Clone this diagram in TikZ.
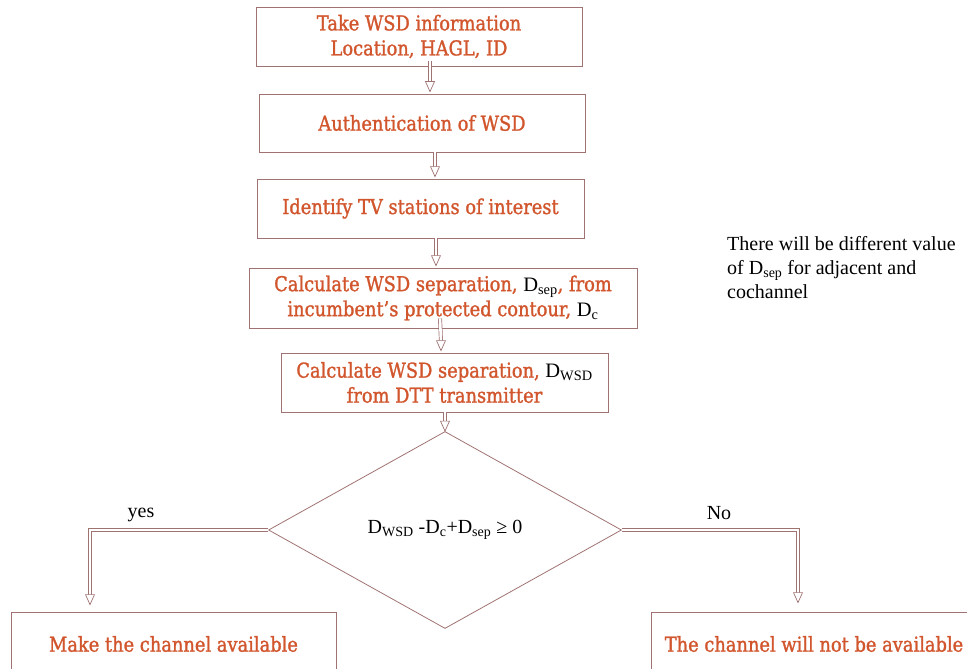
\documentclass[tikz,border=0pt]{standalone}
\usepackage{fontspec}
\setmainfont{Liberation Serif}
\newfontfamily\boxfont{DejaVu Serif}[FakeStretch=0.87,FakeBold=1.3]
\usetikzlibrary{shapes.geometric,calc}
\definecolor{txt}{RGB}{210,86,45}
\definecolor{bc}{RGB}{160,115,115}
\newcommand\Dsub[1]{{\rmfamily\color{black}D\textsubscript{#1}}}
\newcommand\dnarrow[2]{%
  \draw[shaft] (#1) -- ($(#2)+(0,-9)$);
  \draw[head] ($(#2)+(-4.5,-10)$) -- (#2) -- ($(#2)+(4.5,-10)$) -- cycle;}
\begin{document}
\begin{tikzpicture}[x=1pt,y=-1pt,
  box/.style={draw=bc, line width=0.8pt, inner sep=0pt, align=center,
    font=\boxfont\fontsize{20.5}{25}\selectfont, text=txt},
  shaft/.style={draw=bc, line width=0.7pt, double=white, double distance=2.6pt, line join=miter},
  head/.style={draw=bc, fill=white, line width=0.7pt, line join=miter},
  lbl/.style={font=\fontsize{20}{22}\selectfont, inner sep=0pt}]
\useasboundingbox (0,0) rectangle (967,669);
\fill[white] (0,0) rectangle (967,669);

\node[box, minimum width=326pt, minimum height=59pt] (b1) at (419,36.5)
  {Take WSD information\\Location, HAGL, ID};
\node[box, minimum width=326pt, minimum height=58pt] (b2) at (422,123)
  {Authentication of WSD};
\node[box, minimum width=327pt, minimum height=59pt] (b3) at (420.5,208.5)
  {Identify TV stations of interest};
\node[box, minimum width=388pt, minimum height=60pt] (b4) at (443,298)
  {Calculate WSD separation, \Dsub{sep}, from\\incumbent’s protected contour, \Dsub{c}};
\node[box, minimum width=327pt, minimum height=59pt] (b5) at (444.5,382.5)
  {Calculate WSD separation, \Dsub{WSD}\\from DTT transmitter};
\node[diamond, draw=bc, line width=0.8pt, minimum width=353pt, minimum height=197pt,
  inner sep=0pt, font=\fontsize{20}{22}\selectfont] (dec) at (445,530)
  {\raisebox{-3pt}{D\textsubscript{WSD} -D\textsubscript{c}+D\textsubscript{sep} ≥ 0}};
\node[box, minimum width=325pt, minimum height=64pt] (b6) at (173.5,644)
  {Make the channel available};
\node[box, minimum width=326pt, minimum height=64pt] (b7) at (814,644)
  {The channel will not be available};

\node[anchor=north west, align=left, inner sep=0pt,
  font=\fontsize{20}{24}\selectfont] (note) at (727,236)
  {There will be different value\\of D\textsubscript{sep} for adjacent and\\cochannel};

\node[lbl] (yes) at (141,515) {yes};
\node[lbl] (no) at (719,513) {No};

\dnarrow{$(b1.south)+(11,-5)$}{$(b2.north)+(8,-2)$}
\dnarrow{$(b2.south)+(13,0)$}{$(b3.north)+(14.5,-2)$}
\dnarrow{$(b3.south)+(15.5,0)$}{$(b4.north)+(-7,-2)$}
\dnarrow{$(b4.south)+(-3,-10)$}{$(b5.north)+(-3.5,-2)$}
\dnarrow{$(b5.south)+(0.5,0)$}{dec.north}

\coordinate (yt) at ($(b6.north)+(-83.5,-7)$);
\coordinate (nt) at ($(b7.north)+(-16,-9)$);
\draw[shaft] (dec.west) -- (dec.west -| yt) -- ($(yt)+(0,-9)$);
\draw[head] ($(yt)+(-4.5,-10)$) -- (yt) -- ($(yt)+(4.5,-10)$) -- cycle;
\draw[shaft] (dec.east) -- (dec.east -| nt) -- ($(nt)+(0,-9)$);
\draw[head] ($(nt)+(-4.5,-10)$) -- (nt) -- ($(nt)+(4.5,-10)$) -- cycle;
\end{tikzpicture}
\end{document}
